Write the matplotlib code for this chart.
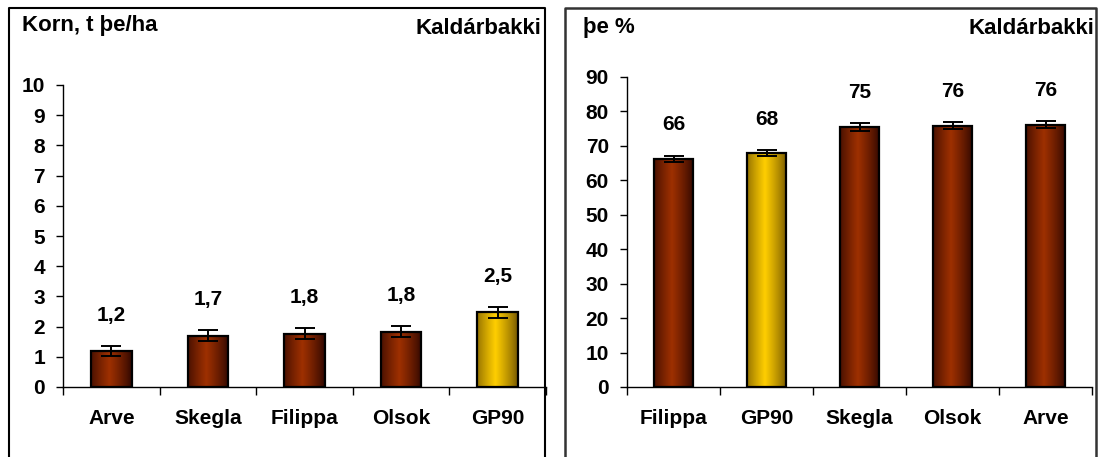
import numpy as np
import matplotlib.pyplot as plt
from matplotlib.lines import Line2D

# left panel: grain yield
korn_cats = ['Arve', 'Skegla', 'Filippa', 'Olsok', 'GP90']
korn_vals = [1.19, 1.70, 1.77, 1.83, 2.48]
korn_err = [0.17, 0.18, 0.18, 0.19, 0.18]
korn_labels = ['1,2', '1,7', '1,8', '1,8', '2,5']

# right panel: dry matter %
pe_cats = ['Filippa', 'GP90', 'Skegla', 'Olsok', 'Arve']
pe_vals = [66.2, 68.0, 75.4, 75.9, 76.2]
pe_err = [1.0, 0.9, 1.2, 0.9, 0.9]
pe_labels = ['66', '68', '75', '76', '76']

plt.rcParams['font.family'] = ['Liberation Sans', 'DejaVu Sans']
plt.rcParams['font.weight'] = 'bold'

W, H = 1098, 457
fig = plt.figure(figsize=(W / 100, H / 100), dpi=100)


def grad_img(dark, light):
    # cylinder-like shading across the bar
    t = np.linspace(0, 1, 64)
    s = np.clip(1 - np.abs(t - 0.45) / 0.55, 0, 1) ** 0.8
    dark = np.array(dark) / 255.0
    light = np.array(light) / 255.0
    row = dark[None, :] + (light - dark)[None, :] * s[:, None]
    return row[None, :, :]


brown = grad_img((45, 6, 0), (158, 48, 0))
gold = grad_img((115, 85, 0), (255, 206, 0))


def draw_panel(rect, cats, vals, errs, labels, ymax, ystep):
    ax = fig.add_axes(rect)
    x = np.arange(len(cats))
    bars = ax.bar(x, vals, width=0.42, color='none', edgecolor='black',
                  linewidth=1.6, zorder=3)
    for c, b in zip(cats, bars):
        img = gold if c == 'GP90' else brown
        im = ax.imshow(img, extent=[b.get_x(), b.get_x() + b.get_width(), 0, b.get_height()],
                       aspect='auto', zorder=2, interpolation='bilinear')
        im.set_clip_path(b)
    ax.errorbar(x, vals, yerr=errs, fmt='none', ecolor='black', elinewidth=1.4,
                capsize=7, capthick=1.4, zorder=4)
    for xi, v, e, lab in zip(x, vals, errs, labels):
        ax.annotate(lab, (xi, v + e), xytext=(0, 22), textcoords='offset points',
                    ha='center', va='center', fontsize=15, fontweight='bold')
    ax.set_xlim(-0.5, len(cats) - 0.5)
    ax.set_ylim(0, ymax)
    ax.set_yticks(np.arange(0, ymax + ystep / 2, ystep))
    ax.set_xticks(x)
    ax.set_xticklabels(cats)
    ax.set_xticks(np.arange(-0.5, len(cats)), minor=True)
    ax.tick_params(axis='x', which='major', length=0, pad=16, labelsize=15)
    ax.tick_params(axis='x', which='minor', length=6, width=1)
    ax.tick_params(axis='y', length=5, width=1, pad=8, labelsize=15)
    for s in ['top', 'right']:
        ax.spines[s].set_visible(False)
    for s in ['left', 'bottom']:
        ax.spines[s].set_linewidth(1)
    ax.patch.set_alpha(0)
    return ax


draw_panel([63 / W, 70 / H, 483 / W, 302 / H], korn_cats, korn_vals, korn_err,
           korn_labels, 10, 1)
draw_panel([627 / W, 70 / H, 465 / W, 310 / H], pe_cats, pe_vals, pe_err,
           pe_labels, 90, 10)


# panel frames (open at the bottom)
def frame(x0, x1, color, lw):
    xs = [x0 / W, x0 / W, x1 / W, x1 / W]
    ys = [0, 1 - 8 / H, 1 - 8 / H, 0]
    fig.add_artist(Line2D(xs, ys, color=color, linewidth=lw))


frame(8.5, 545, 'black', 1.5)
frame(565, 1096, '#333333', 1.8)

fig.text(22 / W, 1 - 25 / H, 'Korn, t þe/ha', fontsize=16, fontweight='bold',
         va='center', ha='left')
fig.text(541 / W, 1 - 28 / H, 'Kaldárbakki', fontsize=16, fontweight='bold',
         va='center', ha='right')
fig.text(583 / W, 1 - 28 / H, 'þe %', fontsize=16, fontweight='bold',
         va='center', ha='left')
fig.text(1094 / W, 1 - 28 / H, 'Kaldárbakki', fontsize=16, fontweight='bold',
         va='center', ha='right')

plt.savefig('out.png', dpi=100)
